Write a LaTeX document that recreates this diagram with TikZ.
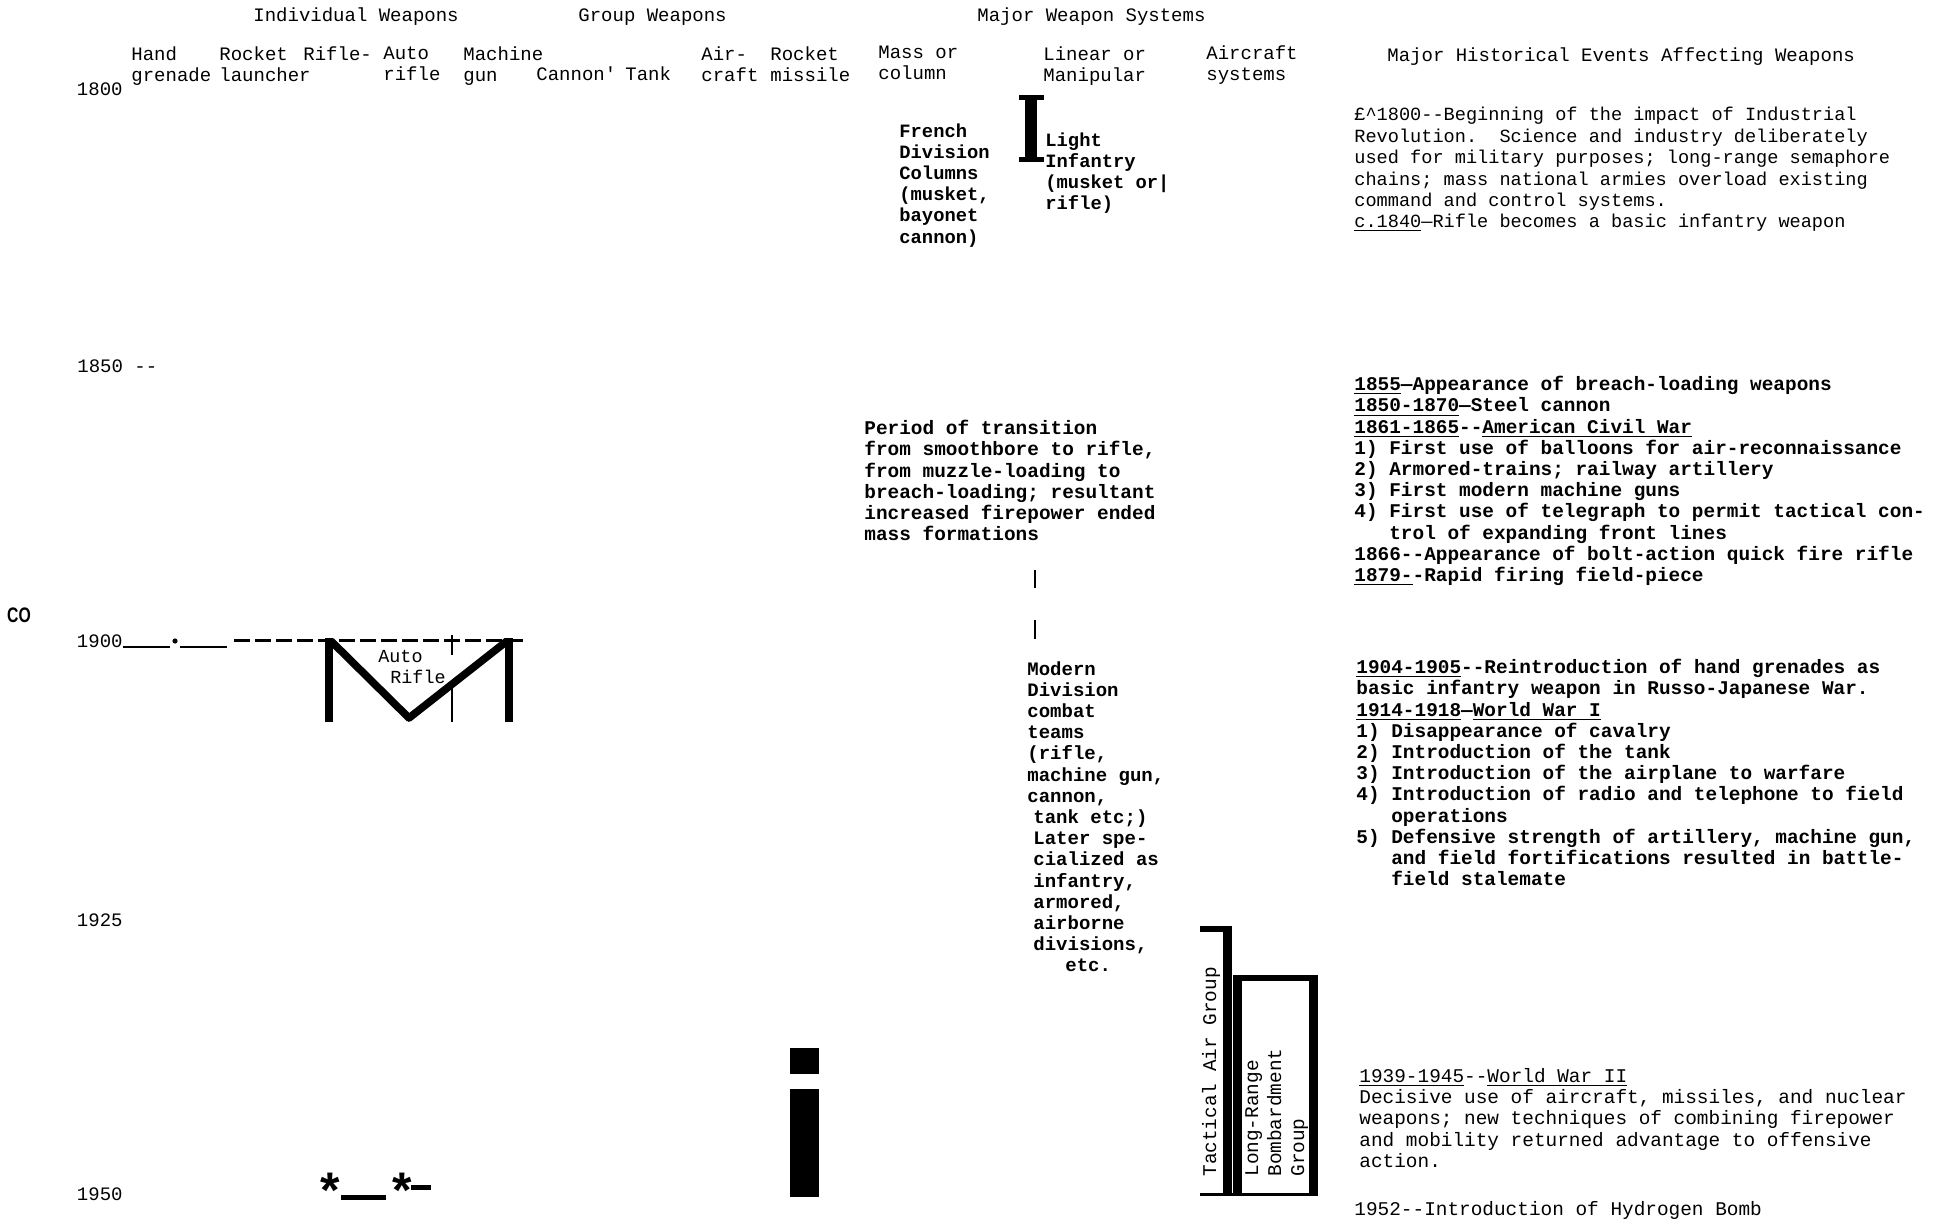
\documentclass[tikz,border=0pt]{standalone}
\usepackage{fontspec}
\newfontfamily\tw{Liberation Mono}
\newfontfamily\sw{Liberation Sans}
\tikzset{
 hdr/.style={font=\tw\fontsize{9.5}{10.5}\selectfont,inner sep=0pt,anchor=base west},
 colhd/.style={font=\tw\fontsize{9.5}{10.5}\selectfont,inner sep=0pt,anchor=north west,align=left},
 yr/.style={hdr,anchor=base east},
 evtext/.style={font=\tw\fontsize{#1}{10.6}\selectfont,inner sep=0pt,anchor=north west,align=left},
 evtext/.default=9.6,
 evbold/.style={evtext,font=\tw\bfseries\fontsize{#1}{10.6}\selectfont},
 evbold/.default=9.6,
 heavy/.style={line width=3.8pt},
 thinrule/.style={line width=1.2pt},
 astk/.style={font=\sw\bfseries\fontsize{25}{25}\selectfont,inner sep=0pt,anchor=north}
}
\begin{document}
\begin{tikzpicture}[x=0.5pt,y=-0.5pt]
 \fill[white] (0,0) rectangle (1942,1219);
 \useasboundingbox (0,0) rectangle (1942,1219);
 \node[hdr] (hdrind) at (253,22) {Individual Weapons};
 \node[hdr] (hdrgrp) at (578,22) {Group Weapons};
 \node[hdr] (hdrmaj) at (977,22) {Major Weapon Systems};
 \node[colhd] (colhand) at (131,46) {Hand\\grenade};
 \node[colhd] (colrl) at (219,46) {Rocket\\launcher};
 \node[colhd] (colrifle) at (303,46) {Rifle-};
 \node[colhd] (colauto) at (383,46) {Auto\\rifle};
 \node[colhd] (colmg) at (463,46) {Machine\\gun};
 \node[hdr] (colcan) at (536,81) {Cannon\textquotesingle};
 \node[hdr] (coltank) at (625,81) {Tank};
 \node[colhd] (colair) at (701,46) {Air-\\craft};
 \node[colhd] (colrm) at (770,46) {Rocket\\missile};
 \node[colhd] (colmass) at (878,46) {Mass or\\column};
 \node[colhd] (collin) at (1043,46) {Linear or\\Manipular};
 \node[colhd] (colacs) at (1206,45) {Aircraft\\systems};
 \node[hdr] (hdrev) at (1387,62) {Major Historical Events Affecting Weapons};
 \node[yr] (y1800) at (123,96) {1800};
 \node[hdr] (y1850) at (77,372) {1850 -{}-};
 \node[yr] (y1900) at (123,647) {1900};
 \node[yr] (y1925) at (123,926) {1925};
 \node[yr] (y1950) at (123,1200) {1950};
 \node[font=\sw\bfseries\fontsize{10.5}{10.5}\selectfont,xscale=0.75,inner sep=0pt] (co) at (19,615) {CO};
 \draw[thinrule] (y1900.base east) -- (170,647);
 \fill (175,641) circle (1.3pt);
 \draw[thinrule] (180,647) -- (227,647);
 \draw[line width=1.5pt,dash pattern=on 8pt off 2.5pt] (234,640) -- (527,640);
 \draw[heavy] (329,638) -- (329,722);
 \draw[heavy] (509,638) -- (509,722);
 \draw[heavy,line join=round] (331,641) -- (409,718) -- (507,641);
 \draw[line width=0.7pt] (452,635) -- (452,655);
 \draw[line width=0.7pt] (452,684) -- (452,722);
 \node[hdr,font=\tw\fontsize{9.2}{10}\selectfont] (autot) at (378,662) {Auto};
 \node[hdr,font=\tw\fontsize{9.2}{10}\selectfont] (riflet) at (390,683) {Rifle};
 \fill (1025,95) rectangle (1037,162);
 \fill (1019,95) rectangle (1044,100);
 \fill (1019,157) rectangle (1044,162);
 \node[evbold=9.4] (french) at (899,123) {French\\Division\\Columns\\(musket,\\bayonet\\cannon)};
 \node[evbold=9.4] (light) at (1045,132) {Light\\Infantry\\(musket or|\\rifle)};
 \node[evbold=9.7] (period) at (864,420) {Period of transition\\from smoothbore to rifle,\\from muzzle-loading to\\breach-loading; resultant\\increased firepower ended\\mass formations};
 \draw[line width=1.2pt] (1035,570) -- (1035,588);
 \draw[line width=1.2pt] (1035,620) -- (1035,639);
 \node[evbold=9.5] (modern) at (1027,661) {Modern\\Division\\combat\\teams\\(rifle,\\machine gun,\\cannon,\\\hspace*{3pt}tank etc;)\\\hspace*{3pt}Later spe-\\\hspace*{3pt}cialized as\\\hspace*{3pt}infantry,\\\hspace*{3pt}armored,\\\hspace*{3pt}airborne\\\hspace*{3pt}divisions,\\\hspace*{19pt}etc.};
 \fill (1200,926) rectangle (1232,932);
 \fill (1223,926) rectangle (1232,1194);
 \fill (1233,975) rectangle (1242,1194);
 \fill (1233,975) rectangle (1318,981);
 \fill (1309,975) rectangle (1318,1194);
 \fill (1200,1193) rectangle (1318,1196);
 \node[hdr,font=\tw\fontsize{9.7}{10.5}\selectfont,rotate=90] (tacair) at (1216,1177) {Tactical Air Group};
 \node[evtext,font=\tw\fontsize{9.7}{11.5}\selectfont,rotate=90] (lrbomb) at (1245,1177) {Long-Range\\Bombardment\\Group};
 \fill (790,1048) rectangle (819,1074);
 \fill (790,1089) rectangle (819,1197);
 \node[astk] (ast1) at (330,1173) {*};
 \node[astk] (ast2) at (402,1173) {*};
 \fill (341,1195) rectangle (386,1200);
 \fill (411,1185) rectangle (431,1190);
 \node[evtext=9.3,font=\tw\fontsize{9.3}{10.7}\selectfont] (ev1800) at (1354,107) {£\textasciicircum1800-{}-Beginning of the impact of Industrial\\Revolution.\ \ Science and industry deliberately\\used for military purposes; long-range semaphore\\chains; mass national armies overload existing\\command and control systems.\\\underline{c.1840}—Rifle becomes a basic infantry weapon};
 \node[evbold=9.7] (ev1855) at (1354,376) {\underline{1855}—Appearance of breach-loading weapons\\\underline{1850-1870}—Steel cannon\\\underline{1861-1865}-{}-\underline{American Civil War}\\1) First use of balloons for air-reconnaissance\\2) Armored-trains; railway artillery\\3) First modern machine guns\\4) First use of telegraph to permit tactical con-\\\phantom{4) }trol of expanding front lines\\1866-{}-Appearance of bolt-action quick fire rifle\\\underline{1879-}-Rapid firing field-piece};
 \node[evbold=9.7] (ev1904) at (1356,659) {\underline{1904-1905}-{}-Reintroduction of hand grenades as\\basic infantry weapon in Russo-Japanese War.\\\underline{1914-1918}—\underline{World War I}\\1) Disappearance of cavalry\\2) Introduction of the tank\\3) Introduction of the airplane to warfare\\4) Introduction of radio and telephone to field\\\phantom{4) }operations\\5) Defensive strength of artillery, machine gun,\\\phantom{5) }and field fortifications resulted in battle-\\\phantom{5) }field stalemate};
 \node[evtext=9.7] (ev1939) at (1359,1068) {\underline{1939-1945}-{}-\underline{World War II}\\Decisive use of aircraft, missiles, and nuclear\\weapons; new techniques of combining firepower\\and mobility returned advantage to offensive\\action.};
 \node[hdr,font=\tw\fontsize{9.7}{10.5}\selectfont] (ev1952) at (1354,1215) {1952-{}-Introduction of Hydrogen Bomb};
\end{tikzpicture}
\end{document}
